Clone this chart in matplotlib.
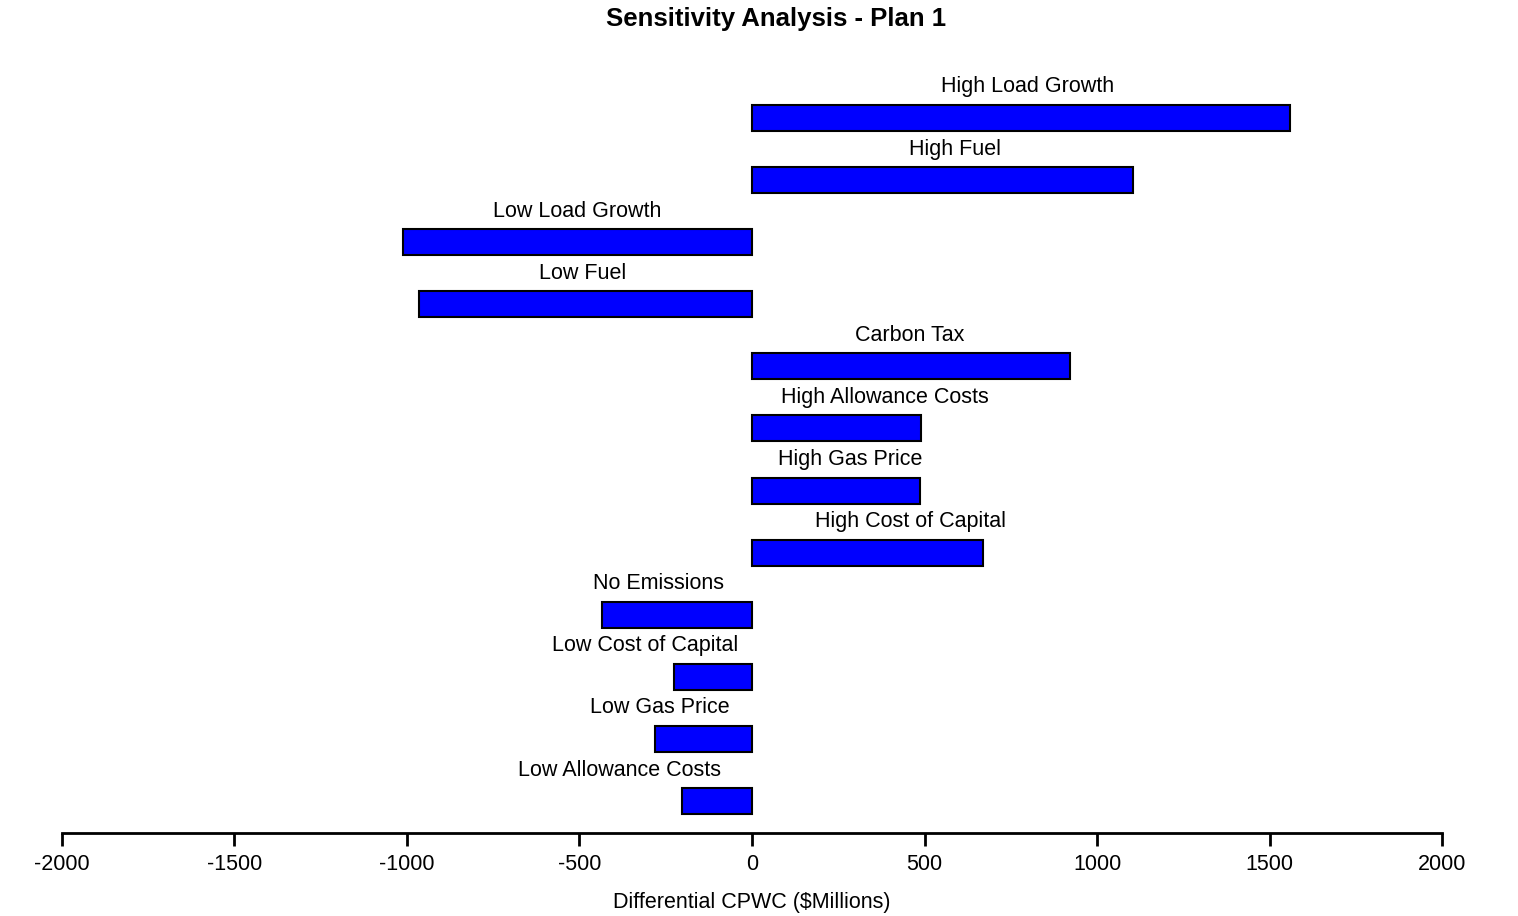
import matplotlib
matplotlib.use('Agg')
import matplotlib.pyplot as plt

plt.rcParams['font.family'] = ['Liberation Sans', 'DejaVu Sans']

# data, top to bottom
cases = ['High Load Growth', 'High Fuel', 'Low Load Growth', 'Low Fuel',
         'Carbon Tax', 'High Allowance Costs', 'High Gas Price',
         'High Cost of Capital', 'No Emissions', 'Low Cost of Capital',
         'Low Gas Price', 'Low Allowance Costs']
delta = [1560, 1105, -1012, -965, 922, 490, 487, 670, -435, -226, -281, -203]

# where the name sits above each bar (x centre, data units)
label_x = [800, 588, -507, -490, 458, 385, 284, 458, -272, -310, -267, -383]

xticks = [-2000, -1500, -1000, -500, 0, 500, 1000, 1500, 2000]

fig = plt.figure(figsize=(15.18, 9.16), dpi=100)
ax = fig.add_axes([0.0408, 0.0906, 0.9092, 0.845])

ypos = list(range(len(cases)))
ax.barh(ypos, delta, height=0.42, color='#0000ff', edgecolor='black',
        linewidth=1.5, zorder=2)

for y, name, lx in zip(ypos, cases, label_x):
    ax.text(lx, y - 0.33, name, ha='center', va='bottom', fontsize=15.5)

ax.set_xlim(-2000, 2000)
ax.set_ylim(len(cases) - 1 + 0.515, -0.95)
ax.set_xticks(xticks)
ax.set_xticklabels([str(t) for t in xticks], fontsize=15.5)
ax.set_yticks([])
ax.tick_params(axis='x', direction='out', length=9, width=2, pad=6)

for s in ['top', 'right', 'left']:
    ax.spines[s].set_visible(False)
ax.spines['bottom'].set_linewidth(2)
ax.spines['bottom'].set_bounds(-2000, 2000)

ax.set_xlabel('Differential CPWC ($Millions)', fontsize=15.5, labelpad=12)
fig.suptitle('Sensitivity Analysis - Plan 1', fontsize=18.5, fontweight='bold',
             y=0.992, va='top', x=0.511)

fig.savefig('out.png', dpi=100, facecolor='white')
